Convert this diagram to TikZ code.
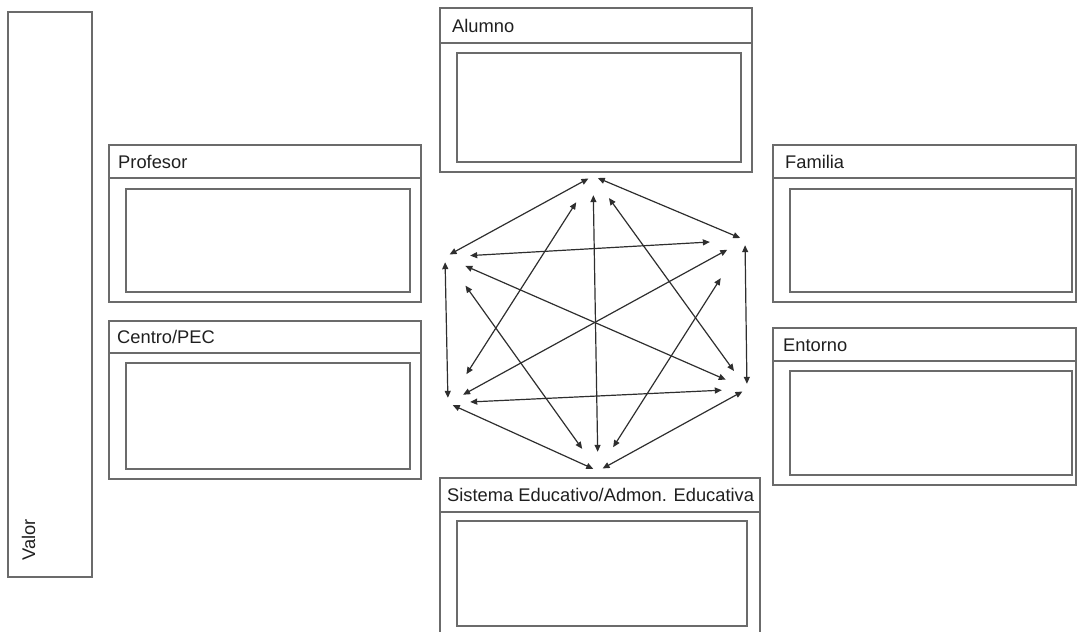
\documentclass[tikz,border=0pt]{standalone}
\usepackage{fontspec}
\setmainfont{Liberation Sans}
\usetikzlibrary{arrows.meta,fit}
\begin{document}
\begin{tikzpicture}[x=1pt,y=-1pt,
  boxline/.style={draw=black!58, line width=1.4pt},
  panelbox/.style={boxline, rectangle, inner sep=0pt},
  lbl/.style={font=\fontsize{18.3}{20}\selectfont, text=black!88, inner sep=0pt, anchor=base west},
  vtx/.style={circle, minimum size=10pt, inner sep=0pt},
  link/.style={draw=black!82, line width=1.2pt, {Triangle[length=7pt,width=6pt]}-{Triangle[length=7pt,width=6pt]}}
]
\useasboundingbox (0,0) rectangle (1077,632);

% Valor
\node[panelbox, fit={(8,12) (92,577)}] (valor) {};
\node[lbl, rotate=90] (valorlbl) at (35,561) {Valor};

% Alumno
\node[panelbox, fit={(440,8) (752,172)}] (alumno) {};
\draw[boxline] (alumno.west |- 0,43) -- (alumno.east |- 0,43);
\node[panelbox, fit={(457,53) (741,162)}] (alumnoin) {};
\node[lbl] (alumnolbl) at (452,32) {Alumno};

% Profesor
\node[panelbox, fit={(109,145) (421,302)}] (profesor) {};
\draw[boxline] (profesor.west |- 0,178) -- (profesor.east |- 0,178);
\node[panelbox, fit={(126,189) (410,292)}] (profesorin) {};
\node[lbl] (profesorlbl) at (118,168) {Profesor};

% Centro/PEC
\node[panelbox, fit={(109,321) (421,479)}] (centro) {};
\draw[boxline] (centro.west |- 0,353) -- (centro.east |- 0,353);
\node[panelbox, fit={(126,363) (410,469)}] (centroin) {};
\node[lbl] (centrolbl) at (117,343) {Centro/PEC};

% Familia
\node[panelbox, fit={(773,145) (1076,302)}] (familia) {};
\draw[boxline] (familia.west |- 0,178) -- (familia.east |- 0,178);
\node[panelbox, fit={(790,189) (1072,292)}] (familiain) {};
\node[lbl] (familialbl) at (785,168) {Familia};

% Entorno
\node[panelbox, fit={(773,328) (1076,485)}] (entorno) {};
\draw[boxline] (entorno.west |- 0,361) -- (entorno.east |- 0,361);
\node[panelbox, fit={(790,371) (1072,475)}] (entornoin) {};
\node[lbl] (entornolbl) at (783,351) {Entorno};

% Sistema Educativo
\node[panelbox, fit={(440,478) (760,645)}] (sistema) {};
\draw[boxline] (sistema.west |- 0,512) -- (sistema.east |- 0,512);
\node[panelbox, fit={(457,521) (747,626)}] (sistemain) {};
\node[lbl] (sistemalbl) at (447,501) {Sistema Educativo/Admon. Educativa};

% hexagon vertices
\node[vtx] (T)  at (593,176) {};
\node[vtx] (UR) at (745,240) {};
\node[vtx] (LR) at (747,389) {};
\node[vtx] (B)  at (598,471) {};
\node[vtx] (LL) at (448,403) {};
\node[vtx] (UL) at (445,257) {};

% outer edges
\draw[link] (T) -- (UL);
\draw[link] (T) -- (UR);
\draw[link] (UL) -- (LL);
\draw[link] (UR) -- (LR);
\draw[link] (LL) -- (B);
\draw[link] (LR) -- (B);

% diagonals
\draw[link, shorten <=26pt, shorten >=29pt] (T) -- (LL);
\draw[link, shorten <=14pt, shorten >=14pt] (T) -- (B);
\draw[link, shorten <=22pt, shorten >=17pt] (T) -- (LR);
\draw[link, shorten <=20pt, shorten >=30pt] (UL) -- (UR);
\draw[link, shorten <=17pt, shorten >=18pt] (UL) -- (LR);
\draw[link, shorten <=30pt, shorten >=22pt] (UL) -- (B);
\draw[link, shorten <=15pt, shorten >=12pt] (UR) -- (LL);
\draw[link, shorten <=40pt, shorten >=23pt] (UR) -- (B);
\draw[link, shorten <=17pt, shorten >=20pt] (LL) -- (LR);
\end{tikzpicture}
\end{document}
